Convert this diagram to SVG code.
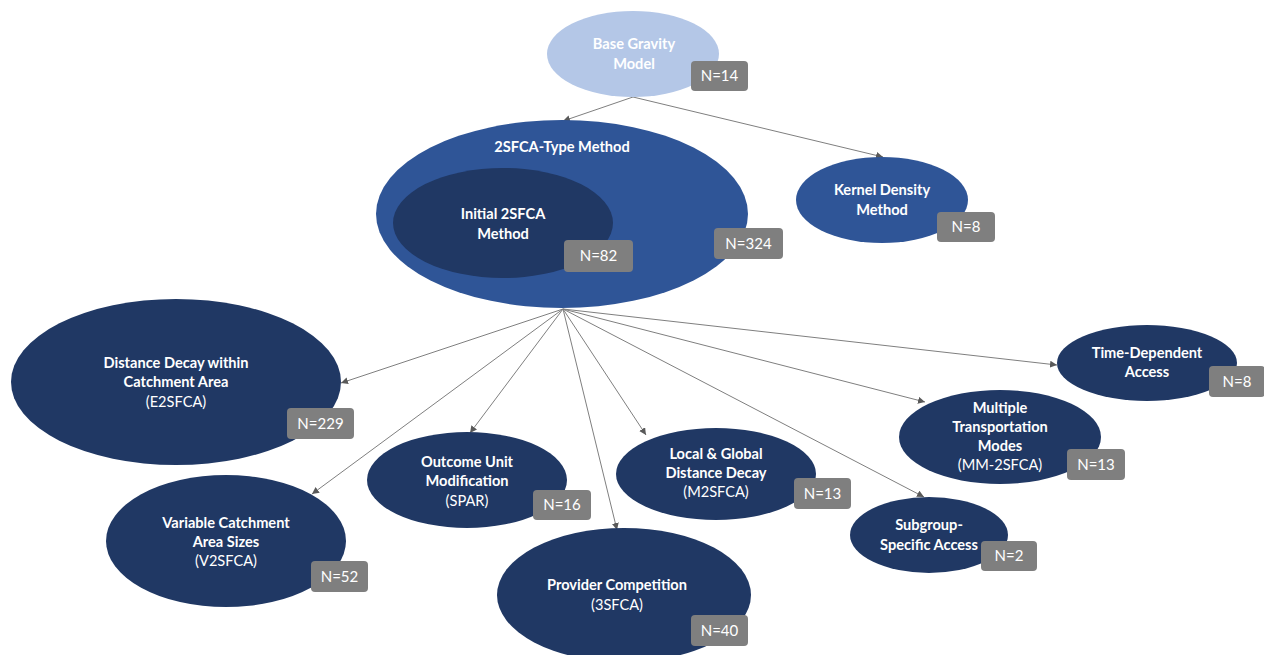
<svg xmlns="http://www.w3.org/2000/svg" width="1264" height="655" viewBox="0 0 1264 655">
<style>
.t{font-family:Lato,"Open Sans","Liberation Sans",sans-serif;font-size:14.6px;fill:#fff;text-anchor:middle}
.b{font-weight:bold}
.n{font-family:Lato,"Open Sans","Liberation Sans",sans-serif;font-size:15px;fill:#fff;text-anchor:middle}
.box{fill:#7f7f7f}
.dark{fill:#203864}
.mid{fill:#2f5597}
.conn{stroke:#7f7f7f;stroke-width:1;fill:none;marker-end:url(#ah)}
</style>
<defs>
<marker id="ah" viewBox="0 0 10 10" refX="10" refY="5" markerWidth="7" markerHeight="7" orient="auto" markerUnits="userSpaceOnUse">
<path d="M0,0 L10,5 L0,10 z" fill="#595959"/>
</marker>
</defs>
<rect width="1264" height="655" fill="#fff"/>
<g id="connectors">
<line class="conn" x1="633" y1="97" x2="563" y2="121"/>
<line class="conn" x1="633" y1="97" x2="883" y2="157"/>
<line class="conn" x1="563" y1="309" x2="341" y2="383"/>
<line class="conn" x1="563" y1="309" x2="312" y2="494"/>
<line class="conn" x1="563" y1="309" x2="470" y2="433"/>
<line class="conn" x1="563" y1="309" x2="617" y2="530"/>
<line class="conn" x1="563" y1="309" x2="646" y2="435"/>
<line class="conn" x1="563" y1="309" x2="924" y2="497"/>
<line class="conn" x1="563" y1="309" x2="925" y2="402"/>
<line class="conn" x1="563" y1="309" x2="1057" y2="365"/>
</g>
<g id="base-gravity">
<ellipse cx="633" cy="54" rx="86" ry="43" fill="#b4c7e7"/>
<text class="t b" x="634" y="49">Base Gravity</text>
<text class="t b" x="634" y="69">Model</text>
<rect class="box" x="691" y="61" width="57" height="30" rx="4"/>
<text class="n" x="719.5" y="81">N=14</text>
</g>
<g id="twosfca-type">
<ellipse cx="562" cy="214" rx="186" ry="94" class="mid"/>
<text class="t b" x="562" y="152">2SFCA-Type Method</text>
<rect class="box" x="714" y="228" width="69" height="31" rx="4"/>
<text class="n" x="748.5" y="248.5">N=324</text>
</g>
<g id="initial-2sfca">
<ellipse cx="503" cy="223" rx="110" ry="55" class="dark"/>
<text class="t b" x="503" y="219">Initial 2SFCA</text>
<text class="t b" x="503" y="239">Method</text>
<rect class="box" x="564" y="240" width="69" height="32" rx="4"/>
<text class="n" x="598.5" y="261">N=82</text>
</g>
<g id="kernel-density">
<ellipse cx="882" cy="200" rx="86" ry="43" class="mid"/>
<text class="t b" x="882" y="195">Kernel Density</text>
<text class="t b" x="882" y="215">Method</text>
<rect class="box" x="937" y="212" width="58" height="30" rx="4"/>
<text class="n" x="966" y="232">N=8</text>
</g>
<g id="e2sfca">
<ellipse cx="176" cy="382" rx="165" ry="83" class="dark"/>
<text class="t b" x="176" y="368">Distance Decay within</text>
<text class="t b" x="176" y="387">Catchment Area</text>
<text class="t" x="176" y="407">(E2SFCA)</text>
<rect class="box" x="287" y="408" width="67" height="31" rx="4"/>
<text class="n" x="320.5" y="428.5">N=229</text>
</g>
<g id="v2sfca">
<ellipse cx="226" cy="541" rx="120" ry="66" class="dark"/>
<text class="t b" x="226" y="528">Variable Catchment</text>
<text class="t b" x="226" y="547">Area Sizes</text>
<text class="t" x="226" y="566">(V2SFCA)</text>
<rect class="box" x="311" y="561" width="57" height="31" rx="4"/>
<text class="n" x="339.5" y="581.5">N=52</text>
</g>
<g id="spar">
<ellipse cx="467" cy="480" rx="100" ry="48" class="dark"/>
<text class="t b" x="467" y="467">Outcome Unit</text>
<text class="t b" x="467" y="486">Modification</text>
<text class="t" x="467" y="506">(SPAR)</text>
<rect class="box" x="533" y="490" width="58" height="30" rx="4"/>
<text class="n" x="562" y="510">N=16</text>
</g>
<g id="threesfca">
<ellipse cx="624" cy="595" rx="127" ry="67" class="dark"/>
<text class="t b" x="617" y="590">Provider Competition</text>
<text class="t" x="617" y="610">(3SFCA)</text>
<rect class="box" x="691" y="615" width="57" height="31" rx="4"/>
<text class="n" x="719.5" y="635.5">N=40</text>
</g>
<g id="m2sfca">
<ellipse cx="716" cy="474" rx="100" ry="46" class="dark"/>
<text class="t b" x="716" y="459">Local &amp; Global</text>
<text class="t b" x="716" y="478">Distance Decay</text>
<text class="t" x="716" y="497">(M2SFCA)</text>
<rect class="box" x="794" y="478" width="57" height="31" rx="4"/>
<text class="n" x="822.5" y="498.5">N=13</text>
</g>
<g id="subgroup">
<ellipse cx="929" cy="535" rx="79" ry="38" class="dark"/>
<text class="t b" x="929" y="530">Subgroup-</text>
<text class="t b" x="929" y="550">Specific Access</text>
<rect class="box" x="981" y="541" width="56" height="30" rx="4"/>
<text class="n" x="1009" y="561">N=2</text>
</g>
<g id="mm2sfca">
<ellipse cx="1000" cy="437" rx="101" ry="47" class="dark"/>
<text class="t b" x="1000" y="413">Multiple</text>
<text class="t b" x="1000" y="432">Transportation</text>
<text class="t b" x="1000" y="451">Modes</text>
<text class="t" x="1000" y="470">(MM-2SFCA)</text>
<rect class="box" x="1067" y="449" width="58" height="31" rx="4"/>
<text class="n" x="1096" y="469.5">N=13</text>
</g>
<g id="time-dependent">
<ellipse cx="1147" cy="363" rx="90" ry="38" class="dark"/>
<text class="t b" x="1147" y="358">Time-Dependent</text>
<text class="t b" x="1147" y="377">Access</text>
<rect class="box" x="1209" y="366" width="56" height="31" rx="4"/>
<text class="n" x="1237" y="386.5">N=8</text>
</g>
</svg>
